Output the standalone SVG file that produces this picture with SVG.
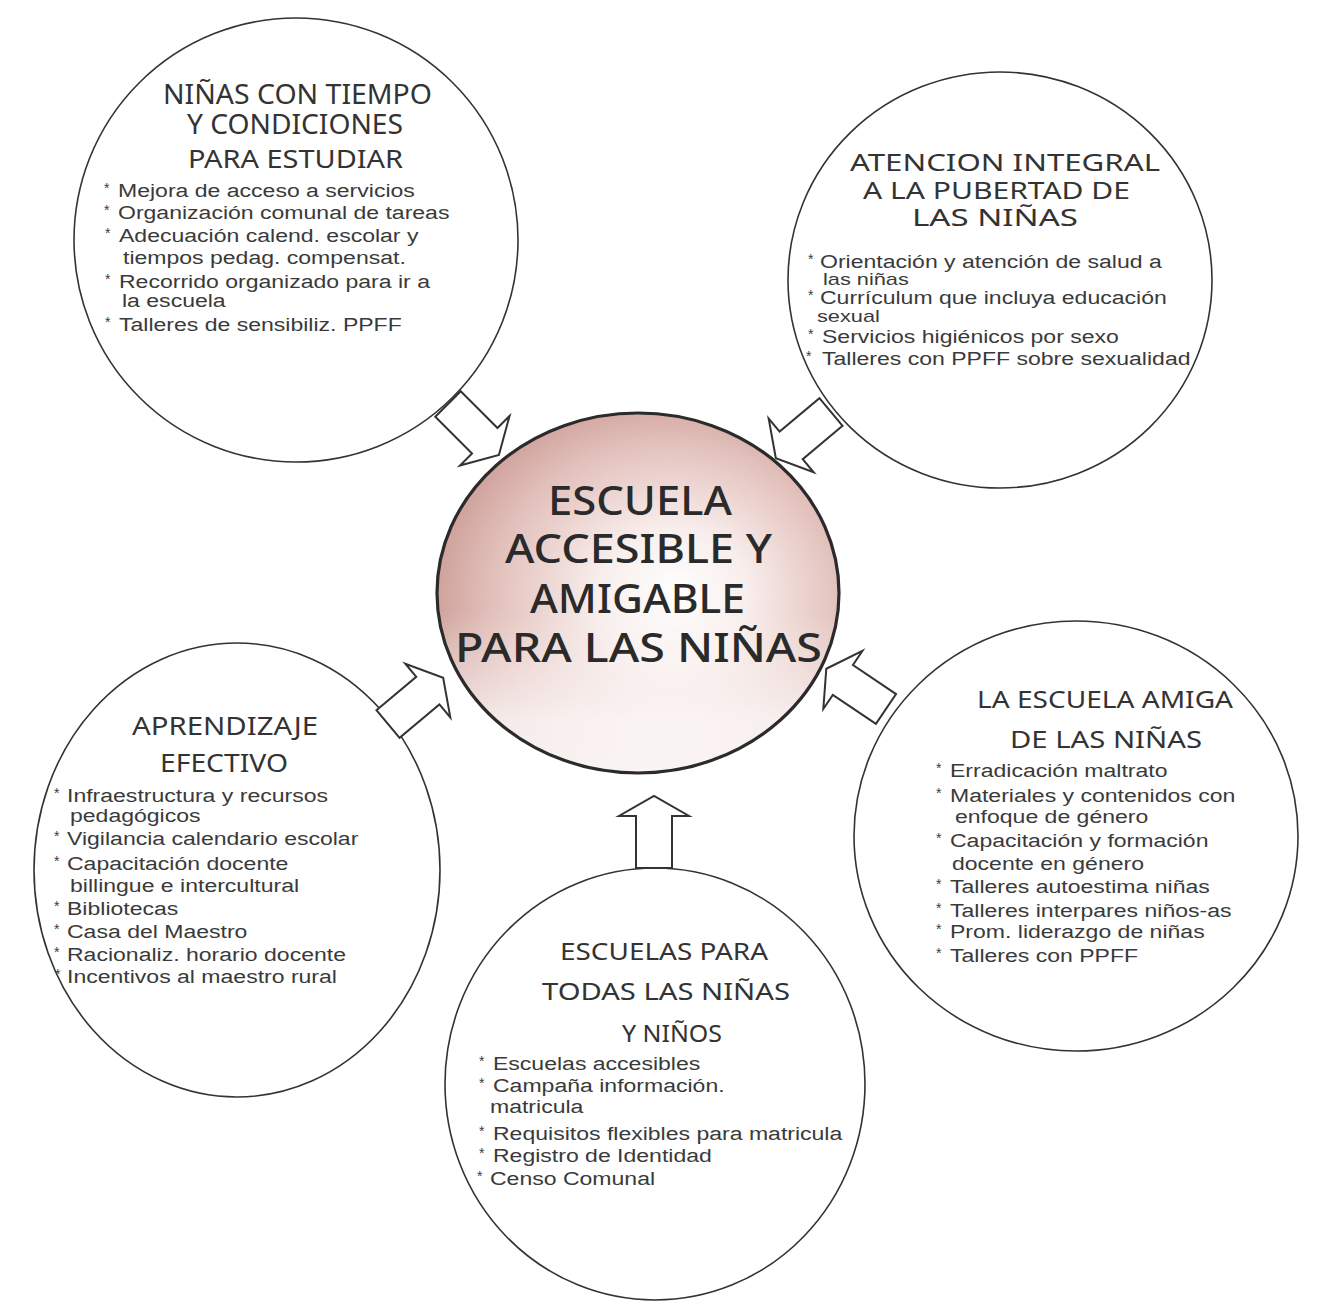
<svg xmlns="http://www.w3.org/2000/svg" width="1328" height="1302" viewBox="0 0 1328 1302">
<defs>
<style>
.node{fill:#ffffff;stroke:#333;stroke-width:1.6}
.center{stroke:#2b2b2b;stroke-width:3.2}
.arrow{fill:#ffffff;stroke:#333;stroke-width:2;stroke-linejoin:miter}
.h{font-family:"Noto Sans","DejaVu Sans",sans-serif;fill:#333;font-weight:400}
.t{font-family:"Noto Sans","DejaVu Sans",sans-serif;fill:#2a2a2a;font-weight:500;font-size:39px}
.b{font-family:"Liberation Sans",Arial,sans-serif;font-size:18px;fill:#3a3a3a}
.bs{font-family:"Liberation Sans",Arial,sans-serif;font-size:17px;fill:#3a3a3a}
.a{font-family:"Liberation Sans",Arial,sans-serif;font-size:14px;fill:#3a3a3a}
</style>
<radialGradient id="pink" cx="0.56" cy="0.52" r="0.62" fx="0.6" fy="0.5">
<stop offset="0" stop-color="#ffffff"/>
<stop offset="0.3" stop-color="#f8eeec"/>
<stop offset="0.7" stop-color="#e2c0bb"/>
<stop offset="1" stop-color="#c8968f"/>
</radialGradient>
<linearGradient id="fade" x1="0" y1="0" x2="0" y2="1">
<stop offset="0.55" stop-color="#ffffff" stop-opacity="0"/>
<stop offset="0.85" stop-color="#ffffff" stop-opacity="0.75"/>
<stop offset="1" stop-color="#ffffff" stop-opacity="0.85"/>
</linearGradient>
<path id="arr" d="M0,-18 L52,-18 L52,-35 L72,0 L52,35 L52,18 L0,18 Z"/>
</defs>
<rect width="1328" height="1302" fill="#ffffff"/>

<g id="node-ninas-tiempo">
<ellipse class="node" cx="296" cy="240" rx="222" ry="222"/>
<text class="h" font-size="27" x="163" y="104" textLength="269" lengthAdjust="spacingAndGlyphs">NIÑAS CON TIEMPO</text>
<text class="h" font-size="27" x="187" y="134" textLength="216" lengthAdjust="spacingAndGlyphs">Y CONDICIONES</text>
<text class="h" font-size="26" x="188" y="168" textLength="215" lengthAdjust="spacingAndGlyphs">PARA ESTUDIAR</text>
<text class="a" x="104" y="193">*</text>
<text class="b" transform="translate(118,197) scale(1.28,1)">Mejora de acceso a servicios</text>
<text class="a" x="104" y="215">*</text>
<text class="b" transform="translate(118,219) scale(1.28,1)">Organización comunal de tareas</text>
<text class="a" x="105" y="238">*</text>
<text class="b" transform="translate(119,242) scale(1.28,1)">Adecuación calend. escolar y</text>
<text class="b" transform="translate(123,264) scale(1.28,1)">tiempos pedag. compensat.</text>
<text class="a" x="105" y="284">*</text>
<text class="b" transform="translate(119,288) scale(1.28,1)">Recorrido organizado para ir a</text>
<text class="b" transform="translate(122,307) scale(1.28,1)">la escuela</text>
<text class="a" x="105" y="327">*</text>
<text class="b" transform="translate(119,331) scale(1.28,1)">Talleres de sensibiliz. PPFF</text>
</g>

<g id="node-atencion-pubertad">
<ellipse class="node" cx="1000" cy="280" rx="212" ry="208"/>
<text class="h" font-size="24" x="850" y="171" textLength="310" lengthAdjust="spacingAndGlyphs">ATENCION INTEGRAL</text>
<text class="h" font-size="24" x="863" y="199" textLength="267" lengthAdjust="spacingAndGlyphs">A LA PUBERTAD DE</text>
<text class="h" font-size="24" x="912" y="226" textLength="166" lengthAdjust="spacingAndGlyphs">LAS NIÑAS</text>
<text class="a" x="808" y="264">*</text>
<text class="b" transform="translate(820,268) scale(1.28,1)">Orientación y atención de salud a</text>
<text class="bs" transform="translate(823,285) scale(1.28,1)">las niñas</text>
<text class="a" x="808" y="300">*</text>
<text class="b" transform="translate(820,304) scale(1.28,1)">Currículum que incluya educación</text>
<text class="bs" transform="translate(817,322) scale(1.28,1)">sexual</text>
<text class="a" x="808" y="339">*</text>
<text class="b" transform="translate(822,343) scale(1.28,1)">Servicios higiénicos por sexo</text>
<text class="a" x="806" y="361">*</text>
<text class="b" transform="translate(822,365) scale(1.28,1)">Talleres con PPFF sobre sexualidad</text>
</g>

<g id="node-aprendizaje">
<ellipse class="node" cx="237" cy="870" rx="203" ry="227"/>
<text class="h" font-size="25" x="132" y="735" textLength="186" lengthAdjust="spacingAndGlyphs">APRENDIZAJE</text>
<text class="h" font-size="25" x="160" y="772" textLength="128" lengthAdjust="spacingAndGlyphs">EFECTIVO</text>
<text class="a" x="54" y="798">*</text>
<text class="b" transform="translate(67,802) scale(1.28,1)">Infraestructura y recursos</text>
<text class="b" transform="translate(70,822) scale(1.28,1)">pedagógicos</text>
<text class="a" x="54" y="841">*</text>
<text class="b" transform="translate(67,845) scale(1.28,1)">Vigilancia calendario escolar</text>
<text class="a" x="54" y="866">*</text>
<text class="b" transform="translate(67,870) scale(1.28,1)">Capacitación docente</text>
<text class="b" transform="translate(70,892) scale(1.28,1)">billingue e intercultural</text>
<text class="a" x="54" y="911">*</text>
<text class="b" transform="translate(67,915) scale(1.28,1)">Bibliotecas</text>
<text class="a" x="54" y="934">*</text>
<text class="b" transform="translate(67,938) scale(1.28,1)">Casa del Maestro</text>
<text class="a" x="54" y="957">*</text>
<text class="b" transform="translate(67,961) scale(1.28,1)">Racionaliz. horario docente</text>
<text class="a" x="55" y="979">*</text>
<text class="b" transform="translate(67,983) scale(1.28,1)">Incentivos al maestro rural</text>
</g>

<g id="node-escuelas-todas">
<ellipse class="node" cx="655" cy="1084" rx="210" ry="216"/>
<text class="h" font-size="23" x="560" y="960" textLength="208" lengthAdjust="spacingAndGlyphs">ESCUELAS PARA</text>
<text class="h" font-size="23" x="542" y="1000" textLength="248" lengthAdjust="spacingAndGlyphs">TODAS LAS NIÑAS</text>
<text class="h" font-size="23" x="622" y="1042" textLength="100" lengthAdjust="spacingAndGlyphs">Y NIÑOS</text>
<text class="a" x="479" y="1066">*</text>
<text class="b" transform="translate(493,1070) scale(1.28,1)">Escuelas accesibles</text>
<text class="a" x="479" y="1088">*</text>
<text class="b" transform="translate(493,1092) scale(1.28,1)">Campaña información.</text>
<text class="b" transform="translate(490,1113) scale(1.28,1)">matricula</text>
<text class="a" x="479" y="1136">*</text>
<text class="b" transform="translate(493,1140) scale(1.28,1)">Requisitos flexibles para matricula</text>
<text class="a" x="479" y="1158">*</text>
<text class="b" transform="translate(493,1162) scale(1.28,1)">Registro de Identidad</text>
<text class="a" x="477" y="1181">*</text>
<text class="b" transform="translate(490,1185) scale(1.28,1)">Censo Comunal</text>
</g>

<g id="node-escuela-amiga">
<ellipse class="node" cx="1076" cy="836" rx="222" ry="215"/>
<text class="h" font-size="23" x="977" y="708" textLength="256" lengthAdjust="spacingAndGlyphs">LA ESCUELA AMIGA</text>
<text class="h" font-size="23" x="1010" y="748" textLength="192" lengthAdjust="spacingAndGlyphs">DE LAS NIÑAS</text>
<text class="a" x="936" y="773">*</text>
<text class="b" transform="translate(950,777) scale(1.28,1)">Erradicación maltrato</text>
<text class="a" x="936" y="798">*</text>
<text class="b" transform="translate(950,802) scale(1.28,1)">Materiales y contenidos con</text>
<text class="b" transform="translate(955,823) scale(1.28,1)">enfoque de género</text>
<text class="a" x="936" y="843">*</text>
<text class="b" transform="translate(950,847) scale(1.28,1)">Capacitación y formación</text>
<text class="b" transform="translate(952,870) scale(1.28,1)">docente en género</text>
<text class="a" x="936" y="889">*</text>
<text class="b" transform="translate(950,893) scale(1.28,1)">Talleres autoestima niñas</text>
<text class="a" x="936" y="913">*</text>
<text class="b" transform="translate(950,917) scale(1.28,1)">Talleres interpares niños-as</text>
<text class="a" x="936" y="934">*</text>
<text class="b" transform="translate(950,938) scale(1.28,1)">Prom. liderazgo de niñas</text>
<text class="a" x="936" y="958">*</text>
<text class="b" transform="translate(950,962) scale(1.28,1)">Talleres con PPFF</text>
</g>

<g id="connectors">
<use href="#arr" class="arrow" transform="translate(448,404) rotate(45)"/>
<use href="#arr" class="arrow" transform="translate(831,412) rotate(140)"/>
<use href="#arr" class="arrow" transform="translate(388,724) rotate(-40)"/>
<use href="#arr" class="arrow" transform="translate(654,868) rotate(-90)"/>
<use href="#arr" class="arrow" transform="translate(886,709) rotate(214)"/>
</g>

<g id="node-center">
<ellipse cx="638" cy="593" rx="201" ry="180" fill="url(#pink)"/>
<ellipse cx="638" cy="593" rx="201" ry="180" fill="url(#fade)"/>
<ellipse class="center" cx="638" cy="593" rx="201" ry="180" fill="none"/>
<text class="t" x="548" y="515" textLength="184" lengthAdjust="spacingAndGlyphs">ESCUELA</text>
<text class="t" x="505" y="563" textLength="267" lengthAdjust="spacingAndGlyphs">ACCESIBLE Y</text>
<text class="t" x="530" y="613" textLength="215" lengthAdjust="spacingAndGlyphs">AMIGABLE</text>
<text class="t" x="455" y="662" textLength="367" lengthAdjust="spacingAndGlyphs">PARA LAS NIÑAS</text>
</g>
</svg>
